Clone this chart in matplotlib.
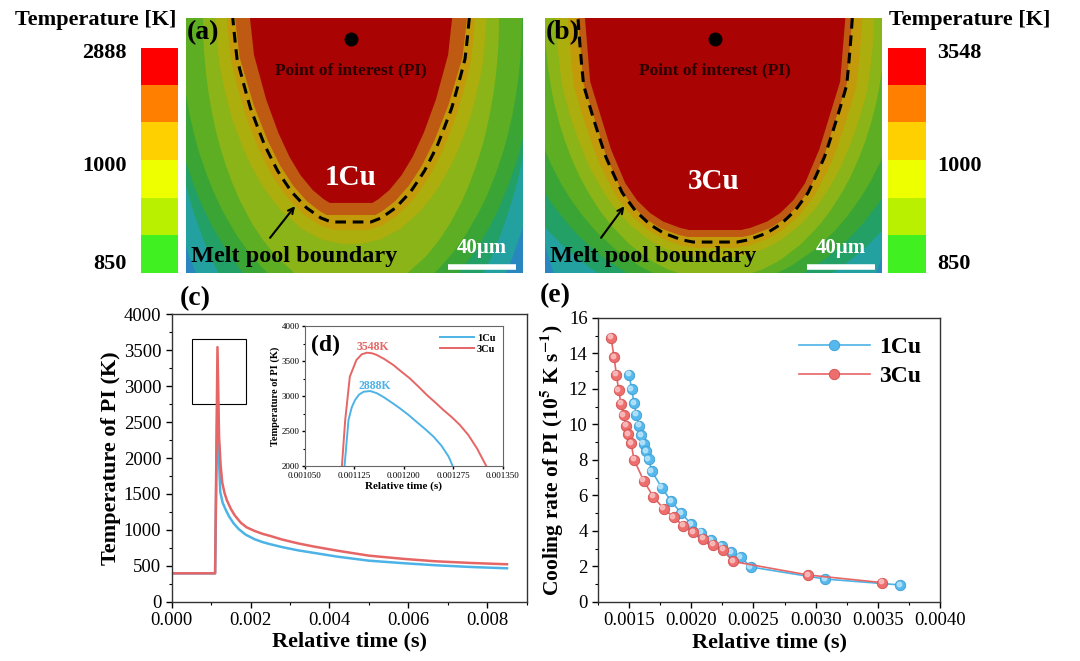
import numpy as np
import matplotlib
matplotlib.use("Agg")
import matplotlib.pyplot as plt
from matplotlib.colors import ListedColormap
from matplotlib.ticker import MultipleLocator, FormatStrFormatter
import matplotlib.transforms as mtransforms

plt.rcParams['font.family'] = ['Liberation Serif', 'DejaVu Serif']
plt.rcParams['mathtext.fontset'] = 'stix'

# ---- data ----
# temperature history of PI, main panel (c)
t_3cu = [0, 0.0011, 0.00116, 0.0012, 0.00124, 0.00128, 0.00134, 0.0014, 0.0015, 0.0016,
         0.00175, 0.0019, 0.0021, 0.0023, 0.0025, 0.0028, 0.0032, 0.0036, 0.0042, 0.005,
         0.0059, 0.0067, 0.0076, 0.0085]
T_3cu = [395, 395, 3543, 2300, 1900, 1660, 1510, 1410, 1290, 1200, 1100, 1035, 985, 945,
         915, 865, 812, 768, 710, 641, 595, 562, 539, 521]
t_1cu = [0, 0.0011, 0.00116, 0.00119, 0.00123, 0.00129, 0.00136, 0.00145, 0.00157, 0.0017,
         0.00187, 0.0021, 0.0023, 0.0025, 0.0028, 0.0032, 0.0036, 0.0042, 0.005, 0.0059,
         0.0067, 0.0076, 0.0085]
T_1cu = [395, 395, 2994, 2100, 1530, 1380, 1290, 1190, 1090, 1010, 935, 870, 830, 800, 760,
         715, 680, 627, 571, 535, 507, 483, 465]

# zoomed peak, inset (d)
ti_3cu = [0.001106, 0.001111, 0.001118, 0.001128, 0.001136, 0.001144, 0.001152, 0.001159,
          0.00117, 0.001184, 0.001196, 0.001209, 0.001222, 0.001235, 0.001248, 0.00126,
          0.001273, 0.001285, 0.001298, 0.001311, 0.001325]
Ti_3cu = [2000, 2657, 3276, 3514, 3595, 3619, 3610, 3586, 3530, 3443, 3350, 3252, 3135,
          3014, 2905, 2800, 2695, 2586, 2440, 2250, 2000]
ti_1cu = [0.00111, 0.001116, 0.001121, 0.001126, 0.001132, 0.001139, 0.001149, 0.001159,
          0.001169, 0.001181, 0.001194, 0.001207, 0.001219, 0.001232, 0.001245, 0.001257,
          0.001268, 0.001274]
Ti_1cu = [2000, 2657, 2840, 2943, 3020, 3061, 3071, 3040, 2986, 2910, 2824, 2730, 2633,
          2530, 2419, 2290, 2133, 2000]

# cooling rate (panel e), 1e5 K/s
ct_1cu = [0.0015, 0.001521, 0.00154, 0.001558, 0.00158, 0.001599, 0.001617, 0.001636,
          0.001658, 0.001682, 0.001762, 0.00184, 0.00192, 0.002001, 0.002082, 0.002162,
          0.002243, 0.002323, 0.002398, 0.002479, 0.003077, 0.003678]
cr_1cu = [12.81, 11.97, 11.2, 10.54, 9.93, 9.38, 8.91, 8.48, 8.03, 7.38, 6.44, 5.66, 5.0,
          4.38, 3.91, 3.48, 3.13, 2.79, 2.53, 1.97, 1.29, 0.96]
ct_3cu = [0.001355, 0.001379, 0.001398, 0.001416, 0.001435, 0.001457, 0.001475, 0.001494,
          0.001516, 0.00154, 0.001617, 0.001695, 0.001778, 0.001859, 0.001934, 0.002014,
          0.002095, 0.002175, 0.002256, 0.002336, 0.00294, 0.003535]
cr_3cu = [14.89, 13.78, 12.81, 11.93, 11.16, 10.52, 9.93, 9.44, 8.95, 8.01, 6.84, 5.92,
          5.26, 4.78, 4.29, 3.93, 3.56, 3.22, 2.94, 2.28, 1.52, 1.09]

# contour bands (half width at surface, depth) in um, inner -> outer
band_w_1cu = [59.4, 68.2, 72.9, 79.5, 87.0, 100.5, 109.4, 109.4, 118.7]
band_d_1cu = [108.8, 115.9, 124.7, 132.9, 162.5, 171.8, 184.0, 213.9, 234.2]
band_w_3cu = [76.5, 80.6, 86.5, 93.5, 100.0, 114.9, 128.5, 144.0, 117.0]
band_d_3cu = [124.7, 128.8, 135.3, 141.2, 154.0, 158.2, 164.0, 170.9, 256.7]
# 0 -> melt-pool outline, 1 -> elliptical outline
band_blend = [0, 0, 0.35, 0.7, 1, 1, 1, 1, 1]
band_colors = ["#AA0303", "#BE5A12", "#C39B0A", "#ABAE0C", "#8BB418", "#5DAE22",
               "#3AA535", "#22A066", "#23A0A0"]
outer_color = "#2A86BE"
# melt pool outline: fraction of depth -> fraction of surface half width
prof_f_1cu = [0, 0.2, 0.44, 0.62, 0.75, 0.85, 0.93, 0.98, 1.0]
prof_w_1cu = [1, 0.96, 0.84, 0.72, 0.61, 0.5, 0.38, 0.27, 0.21]
prof_f_3cu = [0, 0.3, 0.62, 0.78, 0.86, 0.92, 0.96, 0.99, 1.0]
prof_w_3cu = [1, 0.96, 0.8, 0.69, 0.6, 0.5, 0.4, 0.27, 0.2]
pool_1cu = (69.5, 120.0)
pool_3cu = (80.6, 131.8)

legend_cols = ["#FF0000", "#FF8000", "#FFD000", "#EEFF00", "#B8F000", "#40F020"]
cbar_labels_1cu = ["2888", "1000", "850"]
cbar_labels_3cu = ["3548", "1000", "850"]

c_blue = "#4DB3E6"
c_red = "#E66565"

fig = plt.figure(figsize=(10.8, 6.61), dpi=100)


def outline(w, d, pf, pw, blend):
    f = np.unique(np.r_[np.linspace(0, 1, 16), pf])
    fw = (1 - blend) * np.interp(f, pf, pw) + blend * np.sqrt(1 - f ** 2)
    xs = np.r_[w * fw, -w * fw[::-1]]
    ys = np.r_[-d * f, -d * f[::-1]]
    return xs, ys


def melt_panel(rect, xlim, widths, depths, prof, pool, label, alloy, tip, tail):
    ax = fig.add_axes(rect)
    ax.set_facecolor(outer_color)
    n = len(widths)
    for k in range(n - 1, -1, -1):
        xs, ys = outline(widths[k], depths[k], prof[0], prof[1], band_blend[k])
        ax.fill(np.r_[xs[0], xs, xs[-1]], np.r_[5, ys, 5], color=band_colors[k], lw=0)
    xs, ys = outline(pool[0], pool[1], prof[0], prof[1], 0.2)
    ax.plot(xs, ys, color='k', lw=2.2, dashes=(3.5, 2.2))
    ax.plot([0], [-12.5], 'o', color='k', ms=9)
    ax.text(0, -30.6, "Point of interest (PI)", ha='center', va='center',
            fontsize=12.5, fontweight='bold', color='#2a0000')
    ax.text(alloy[1], alloy[2], alloy[0], ha='center', va='center', fontsize=21,
            fontweight='bold', color='white')
    ax.text(xlim[0] + 3, -140.5, "Melt pool boundary", ha='left', va='center',
            fontsize=17.5, fontweight='bold', color='k')
    ax.annotate('', xy=tip, xytext=tail,
                arrowprops=dict(arrowstyle='->', lw=1.5, color='k'))
    sb0 = xlim[1] - 44
    ax.plot([sb0, sb0 + 40], [-146.5, -146.5], color='white', lw=4, solid_capstyle='butt')
    ax.text(sb0 + 20, -135.5, u"40\u00b5m", ha='center', va='center', fontsize=15,
            fontweight='bold', color='white')
    ax.set_xlim(*xlim)
    ax.set_ylim(-150, 0)
    ax.set_xticks([])
    ax.set_yticks([])
    for s in ax.spines.values():
        s.set_visible(False)
    fig.text(rect[0] + 0.001, 0.95, label, ha='left', va='center', fontsize=20,
             fontweight='bold')
    return ax


melt_panel([0.1722, 0.587, 0.312, 0.3858], (-97, 101), band_w_1cu, band_d_1cu,
           (prof_f_1cu, prof_w_1cu), pool_1cu, "(a)", ("1Cu", 0, -94),
           (-31.9, -109.4), (-48.6, -130.6))
melt_panel([0.5046, 0.587, 0.312, 0.3858], (-100, 98), band_w_3cu, band_d_3cu,
           (prof_f_3cu, prof_w_3cu), pool_3cu, "(b)", ("3Cu", -1, -96.3),
           (-52.4, -109.4), (-68, -130.6))


def legend_bar(rect, labels, side):
    ax = fig.add_axes(rect)
    cmap = ListedColormap(legend_cols[::-1])
    ax.imshow(np.arange(len(legend_cols))[::-1].reshape(-1, 1), cmap=cmap, aspect='auto',
              extent=(0, 1, 0, len(legend_cols)), interpolation='nearest')
    ax.set_xticks([])
    ax.set_yticks([])
    for s in ax.spines.values():
        s.set_visible(False)
    ypos = [5.85, 2.85, 0.25]
    for lab, y in zip(labels, ypos):
        if side == 'left':
            ax.text(-0.4, y, lab, ha='right', va='center', fontsize=16, fontweight='bold')
        else:
            ax.text(1.3, y, lab, ha='left', va='center', fontsize=16, fontweight='bold')
    return ax


legend_bar([0.1306, 0.5865, 0.0336, 0.3413], cbar_labels_1cu, 'left')
legend_bar([0.8225, 0.5865, 0.0349, 0.3413], cbar_labels_3cu, 'right')
fig.text(0.089, 0.970, "Temperature [K]", ha='center', va='center', fontsize=16,
         fontweight='bold')
fig.text(0.898, 0.970, "Temperature [K]", ha='center', va='center', fontsize=16,
         fontweight='bold')


def style_axes(ax, size=13):
    ax.tick_params(which='both', direction='out', top=False, right=False, labelsize=size)
    ax.tick_params(which='major', length=4, width=1)
    ax.tick_params(which='minor', length=2.5, width=0.8)
    for s in ax.spines.values():
        s.set_linewidth(1.0)
        s.set_color('#333333')


# ---- panel c ----
axc = fig.add_axes([0.159, 0.0897, 0.3287, 0.4348])
axc.plot(t_1cu, T_1cu, color=c_blue, lw=1.8, label='1Cu')
axc.plot(t_3cu, T_3cu, color=c_red, lw=1.8, label='3Cu')
axc.add_patch(plt.Rectangle((0.000507, 2753), 0.001375, 906, fill=False, ec='k', lw=0.8))
axc.set_xlim(0, 0.009)
axc.set_ylim(0, 4000)
axc.xaxis.set_major_locator(MultipleLocator(0.002))
axc.xaxis.set_minor_locator(MultipleLocator(0.001))
axc.yaxis.set_major_locator(MultipleLocator(500))
axc.yaxis.set_minor_locator(MultipleLocator(250))
axc.xaxis.set_major_formatter(FormatStrFormatter('%.3f'))
style_axes(axc, 13.5)
axc.set_xlabel("Relative time (s)", fontsize=16, fontweight='bold', labelpad=2)
axc.set_ylabel("Temperature of PI (K)", fontsize=16, fontweight='bold', labelpad=2)
fig.text(0.166, 0.549, "(c)", ha='left', va='center', fontsize=20, fontweight='bold')

# ---- inset d ----
axd = fig.add_axes([0.2824, 0.295, 0.1831, 0.2118])
axd.plot(ti_1cu, Ti_1cu, color=c_blue, lw=1.4, label='1Cu')
axd.plot(ti_3cu, Ti_3cu, color=c_red, lw=1.4, label='3Cu')
axd.set_xlim(0.00105, 0.00135)
axd.set_ylim(2000, 4000)
axd.set_xticks([0.00105, 0.001125, 0.0012, 0.001275, 0.00135])
axd.xaxis.set_major_formatter(FormatStrFormatter('%.6f'))
axd.yaxis.set_major_locator(MultipleLocator(500))
axd.yaxis.set_minor_locator(MultipleLocator(250))
style_axes(axd, 6.5)
axd.tick_params(which='major', length=2.5, pad=1.5)
axd.tick_params(which='minor', length=1.5)
for s in axd.spines.values():
    s.set_linewidth(0.8)
    s.set_color('#666666')
axd.set_xlabel("Relative time (s)", fontsize=8, fontweight='bold', labelpad=1)
axd.set_ylabel("Temperature of PI (K)", fontsize=7.5, fontweight='bold', labelpad=1)
axd.text(0.0011524, 3700, "3548K", color=c_red, fontsize=8.5, fontweight='bold',
         ha='center', va='center')
axd.text(0.001156, 3143, "2888K", color=c_blue, fontsize=8.5, fontweight='bold',
         ha='center', va='center')
axd.text(0.03, 0.86, "(d)", transform=axd.transAxes, fontsize=17, fontweight='bold',
         ha='left', va='center')
axd.legend(loc='upper right', frameon=False, prop={'size': 7.5, 'weight': 'bold'},
           handlelength=3.2, borderaxespad=0.3, labelspacing=0.2, handletextpad=0.3)

# ---- panel e ----
axe = fig.add_axes([0.5537, 0.0893, 0.3167, 0.4297])
hl = mtransforms.offset_copy(axe.transData, fig=fig, x=-1.0, y=1.0, units='points')
axe.plot(ct_1cu, cr_1cu, '-o', color=c_blue, lw=1.2, ms=7.5, mfc='#55B9EE',
         mec='#3D9CD0', mew=0.6, label='1Cu')
axe.plot(ct_1cu, cr_1cu, 'o', ms=3.2, color='#BFE6FA', alpha=0.8, transform=hl)
axe.plot(ct_3cu, cr_3cu, '-o', color=c_red, lw=1.2, ms=7.5, mfc='#EE6E6E',
         mec='#CF5050', mew=0.6, label='3Cu')
axe.plot(ct_3cu, cr_3cu, 'o', ms=3.2, color='#FAC4C4', alpha=0.8, transform=hl)
axe.set_xlim(0.00125, 0.004)
axe.set_ylim(0, 16)
axe.xaxis.set_major_locator(MultipleLocator(0.0005))
axe.xaxis.set_minor_locator(MultipleLocator(0.00025))
axe.yaxis.set_major_locator(MultipleLocator(2))
axe.yaxis.set_minor_locator(MultipleLocator(1))
axe.xaxis.set_major_formatter(FormatStrFormatter('%.4f'))
style_axes(axe, 13.5)
axe.set_xlabel("Relative time (s)", fontsize=16, fontweight='bold', labelpad=2)
axe.set_ylabel(r"Cooling rate of PI (10$^{\mathbf{5}}$ K s$^{\mathbf{-1}}$)", fontsize=15.5,
               fontweight='bold', labelpad=2)
h, l = axe.get_legend_handles_labels()
axe.legend(h, l, loc='upper right', frameon=False, prop={'size': 17, 'weight': 'bold'},
           handlelength=3.0, borderaxespad=0.4, labelspacing=0.3, handletextpad=0.4)
fig.text(0.5, 0.553, "(e)", ha='left', va='center', fontsize=20, fontweight='bold')

fig.savefig("out.png", dpi=100)
